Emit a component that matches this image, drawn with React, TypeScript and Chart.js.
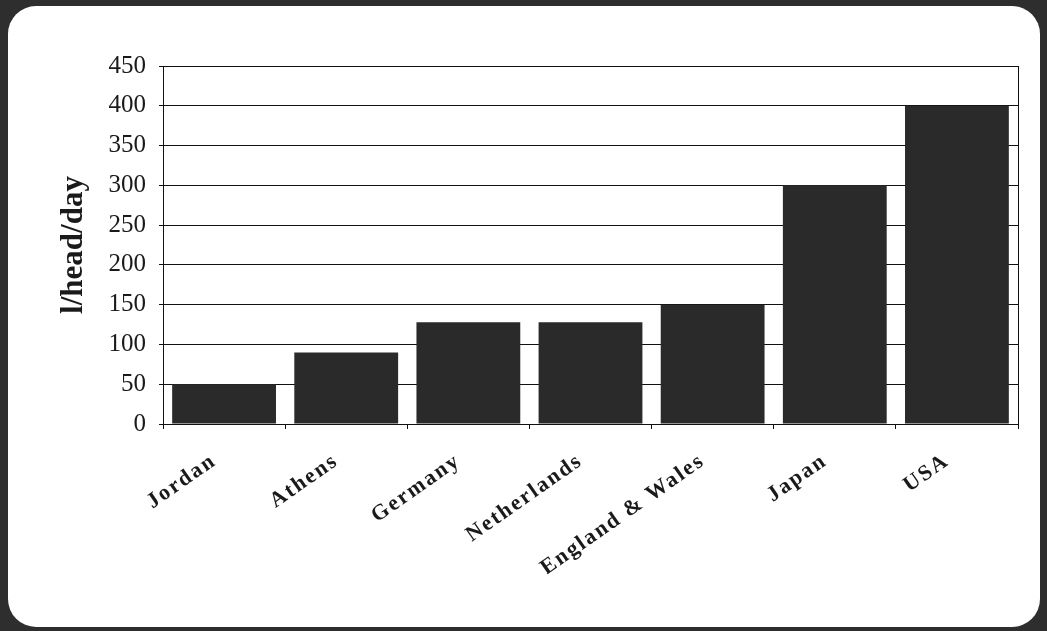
import React, { useEffect, useRef } from "react";
import { Chart, registerables } from "chart.js";

Chart.register(...registerables);

const categories = ["Jordan", "Athens", "Germany", "Netherlands", "England & Wales", "Japan", "USA"];
const consumption = [50, 90, 128, 128, 150, 300, 400];
const yTicks = [0, 50, 100, 150, 200, 250, 300, 350, 400, 450];

const W = 1047;
const H = 631;

const framePlugin = {
  id: "frameBorder",
  afterUpdate(chart: any) {
    const s = chart.scales.x;
    if (s && !s.__spaced) {
      const orig = s.drawLabels.bind(s);
      s.drawLabels = (area: any) => {
        const ctx = chart.ctx;
        ctx.save();
        ctx.letterSpacing = "2px";
        orig(area);
        ctx.restore();
      };
      s.__spaced = true;
    }
  },
  beforeDatasetsDraw(chart: any) {
    const { ctx, chartArea } = chart;
    ctx.save();
    ctx.strokeStyle = "#111";
    ctx.lineWidth = 1;
    ctx.strokeRect(chartArea.left + 0.5, chartArea.top + 0.5, chartArea.right - chartArea.left, chartArea.bottom - chartArea.top);
    ctx.restore();
  },
};

export default function App() {
  const ref = useRef<HTMLCanvasElement | null>(null);

  useEffect(() => {
    document.body.style.margin = "0";
    if (!ref.current) return;
    Chart.defaults.font.family = '"Liberation Serif", "Times New Roman", serif';
    Chart.defaults.color = "#1a1a1a";
    const chart = new Chart(ref.current, {
      type: "bar",
      data: {
        labels: categories,
        datasets: [
          {
            data: consumption,
            backgroundColor: "#2a2a2a",
            borderWidth: 0,
            barPercentage: 0.85,
            categoryPercentage: 1,
          },
        ],
      },
      options: {
        animation: false,
        responsive: false,
        devicePixelRatio: 1,
        layout: { padding: { left: 40, top: 66, right: 29, bottom: 57 } },
        plugins: { legend: { display: false }, tooltip: { enabled: false } },
        scales: {
          x: {
            grid: { display: true, drawOnChartArea: false, offset: true, tickLength: 5, color: "#111" },
            border: { color: "#111" },
            ticks: {
              autoSkip: false,
              minRotation: 35,
              maxRotation: 35,
              padding: 19,
              labelOffset: -10,
              font: { size: 22, weight: "bold" },
              color: "#1a1a1a",
            },
            afterFit: (scale: any) => {
              scale.height = 150;
            },
          },
          y: {
            min: 0,
            max: 450,
            afterBuildTicks: (scale: any) => {
              scale.ticks = yTicks.map((v) => ({ value: v }));
            },
            grid: { color: "#111", lineWidth: 1, tickLength: 4 },
            border: { color: "#111" },
            ticks: { padding: 13, font: { size: 25 }, color: "#1a1a1a" },
            title: {
              display: true,
              text: "l/head/day",
              font: { size: 31, weight: "bold" },
              color: "#1a1a1a",
              padding: { top: 15, bottom: 0 },
            },
            afterFit: (scale: any) => {
              scale.width = 123;
            },
          },
        },
      },
      plugins: [framePlugin],
    });
    return () => chart.destroy();
  }, []);

  return (
    <div style={{ position: "fixed", left: 0, top: 0, width: W, height: H, background: "#2e2e2e", overflow: "hidden" }}>
      <div
        style={{
          position: "absolute",
          left: 8,
          top: 6,
          width: 1032,
          height: 621,
          background: "#fff",
          borderRadius: 28,
        }}
      />
      <canvas ref={ref} width={W} height={H} style={{ position: "absolute", left: 0, top: 0, width: W, height: H }} />
    </div>
  );
}
